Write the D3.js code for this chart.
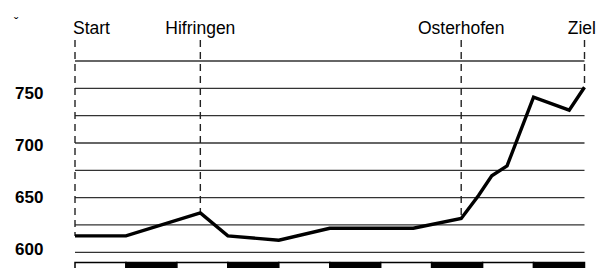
<!DOCTYPE html>
<html>
<head>
<meta charset="utf-8">
<script src="https://cdn.jsdelivr.net/npm/d3@7"></script>
<style>
  body { margin: 0; background: #fff; }
  svg text { font-family: Arial, "Liberation Sans", sans-serif; }
</style>
</head>
<body>
<div id="chart"></div>
<script>
// course profile: distance (km) and elevation (m)
var distanceKm = [0, 5, 12.3, 15, 20, 25, 33.2, 37.9, 39.6, 40.9, 42.4, 45, 48.5, 50];
var elevation  = [615, 615, 636, 615, 611, 622, 622, 631, 652, 670, 679, 742, 730, 751];

// places along the route
var placeNames = ["Start", "Hifringen", "Osterhofen", "Ziel"];
var placeKm    = [0, 12.3, 37.9, 50];

// axis / grid values
var yLabels    = [600, 650, 700, 750];
var gridLevels = [600, 625, 650, 675, 700, 725, 750, 775];
var scaleStarts = [0, 5, 10, 15, 20, 25, 30, 35, 40, 45];
var scaleStep = 5;

var width = 598, height = 268;

var svg = d3.select("#chart").append("svg")
    .attr("width", width)
    .attr("height", height);

// Scales
var x = d3.scaleLinear().domain([0, 50]).range([75, 584.5]);
var y = d3.scaleLinear().domain([600, 775]).range([252.3, 61]);
// the value labels sit on their own slightly different spacing
var yLab = d3.scaleLinear().domain([600, 750]).range([249, 93.3]);
// elevation along the course (piecewise)
var elevAt = d3.scaleLinear().domain(distanceKm).range(elevation);

// small mark top left
svg.append("text")
    .attr("x", 14)
    .attr("y", 27)
    .attr("font-size", 13)
    .text("ˇ");

// horizontal grid
svg.append("g")
    .selectAll("line")
    .data(gridLevels)
    .enter().append("line")
    .attr("x1", x(0))
    .attr("x2", x(50))
    .attr("y1", function(d) { return y(d); })
    .attr("y2", function(d) { return y(d); })
    .attr("stroke", "#333")
    .attr("stroke-width", 1.3);

// y labels
svg.append("g")
    .selectAll("text")
    .data(yLabels)
    .enter().append("text")
    .attr("x", 15)
    .attr("y", function(d) { return yLab(d) + 6; })
    .attr("font-size", 17)
    .attr("font-weight", "bold")
    .text(function(d) { return d; });

// dashed place markers, from label down to the profile
var places = placeNames.map(function(n, i) { return {name: n, km: placeKm[i]}; });

svg.append("g")
    .selectAll("line")
    .data(places)
    .enter().append("line")
    .attr("x1", function(d) { return x(d.km); })
    .attr("x2", function(d) { return x(d.km); })
    .attr("y1", 40)
    .attr("y2", function(d) { return y(elevAt(d.km)); })
    .attr("stroke", "#222")
    .attr("stroke-width", 1.4)
    .attr("stroke-dasharray", "7,5");

// place names (kept inside the picture)
svg.append("g")
    .selectAll("text")
    .data(places)
    .enter().append("text")
    .attr("y", 34)
    .attr("font-size", 17.5)
    .text(function(d) { return d.name; })
    .each(function(d) {
        var w = this.getComputedTextLength();
        var left = x(d.km) - w / 2;
        left = Math.max(73, Math.min(left, 596 - w));
        d3.select(this).attr("x", left);
    });

// profile line
var line = d3.line()
    .x(function(d) { return x(d[0]); })
    .y(function(d) { return y(d[1]); });

svg.append("path")
    .datum(d3.zip(distanceKm, elevation))
    .attr("d", line)
    .attr("fill", "none")
    .attr("stroke", "#000")
    .attr("stroke-width", 3.4)
    .attr("stroke-linejoin", "miter");

// distance scale bar at the bottom
svg.append("g")
    .selectAll("rect")
    .data(scaleStarts)
    .enter().append("rect")
    .attr("x", function(d) { return x(d); })
    .attr("y", 262.5)
    .attr("width", function(d) { return x(d + scaleStep) - x(d); })
    .attr("height", 10)
    .attr("fill", function(d, i) { return i % 2 ? "#000" : "#fff"; })
    .attr("stroke", "#000")
    .attr("stroke-width", 1.5);
</script>
</body>
</html>
